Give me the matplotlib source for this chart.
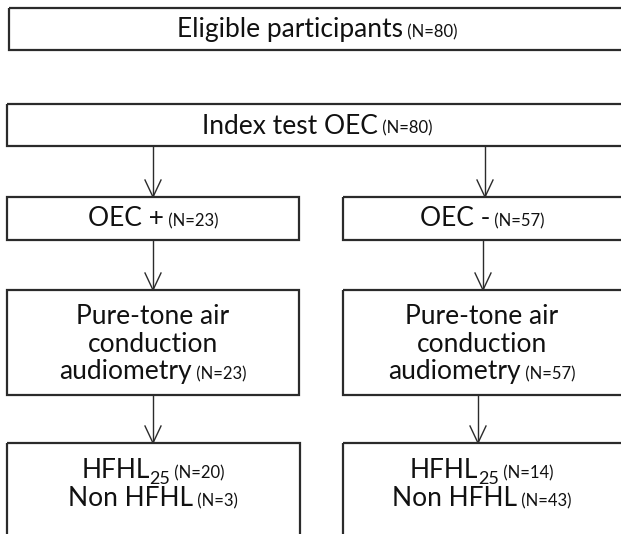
import matplotlib
matplotlib.use("Agg")
import matplotlib.pyplot as plt
from matplotlib.patches import Rectangle

# ---- data ----
top_label = [("Eligible participants", "big"), (" (N=80)", "small")]
index_label = [("Index test OEC", "big"), (" (N=80)", "small")]
oec_labels = [
    [("OEC +", "big"), (" (N=23)", "small")],
    [("OEC -", "big"), (" (N=57)", "small")],
]
pta_labels = [
    [[("Pure-tone air", "big")], [("conduction", "big")], [("audiometry", "big"), (" (N=23)", "small")]],
    [[("Pure-tone air", "big")], [("conduction", "big")], [("audiometry", "big"), (" (N=57)", "small")]],
]
result_labels = [
    [[("HFHL", "big"), ("25", "sub"), (" (N=20)", "small")], [("Non HFHL", "big"), (" (N=3)", "small")]],
    [[("HFHL", "big"), ("25", "sub"), (" (N=14)", "small")], [("Non HFHL", "big"), (" (N=43)", "small")]],
]

W, H = 621, 534
fig = plt.figure(figsize=(W / 100, H / 100), dpi=100)
ax = fig.add_axes([0, 0, 1, 1])
ax.set_xlim(0, W)
ax.set_ylim(H, 0)
ax.axis("off")

FONT = "Lato"
SIZES = {"big": 19, "small": 12, "sub": 13}
EDGE = "#2b2b2b"


def box(x0, y0, x1, y1):
    ax.add_patch(Rectangle((x0, y0), x1 - x0, y1 - y0, fill=False,
                           edgecolor=EDGE, linewidth=1.6, clip_on=False))


def arrow(x, y0, y1):
    ax.plot([x, x], [y0, y1], color=EDGE, lw=1.0, solid_capstyle="butt")
    ax.plot([x - 8, x, x + 8], [y1 - 17, y1, y1 - 17], color=EDGE, lw=1.0)


renderer = fig.canvas.get_renderer()


def line_text(cx, cy, parts):
    texts = []
    for s, kind in parts:
        t = ax.text(0, 0, s, fontsize=SIZES[kind], family=FONT, va="baseline",
                    ha="left", color="#111111")
        texts.append((t, kind))
    widths = [t.get_window_extent(renderer).width for t, _ in texts]
    total = sum(widths)
    x = cx - total / 2
    base = cy + 8.5
    for (t, kind), w in zip(texts, widths):
        yy = base + (5 if kind == "sub" else 0)
        t.set_position((x, yy))
        x += w


def block_text(cx, cy, lines, spacing=28):
    n = len(lines)
    for i, parts in enumerate(lines):
        line_text(cx, cy + (i - (n - 1) / 2) * spacing, parts)


# boxes
box(9, 8, 640, 50)
line_text(317, 29, top_label)

box(7, 104, 640, 146)
line_text(317, 125, index_label)

box(7, 197, 299, 240)
box(343, 197, 640, 240)
for cx, lab in zip([153, 482], oec_labels):
    line_text(cx, 218, lab)

box(7, 290, 299, 395)
box(343, 290, 640, 395)
for cx, lab in zip([153, 482], pta_labels):
    block_text(cx, 343, lab)

box(7, 443, 300, 560)
box(343, 443, 640, 560)
for cx, lab in zip([153, 482], result_labels):
    block_text(cx, 484, lab)

# arrows
arrow(153, 146, 197)
arrow(485, 146, 197)
arrow(153, 240, 290)
arrow(483, 240, 290)
arrow(153, 395, 443)
arrow(478, 395, 443)

fig.savefig("out.png", dpi=100, facecolor="white")
